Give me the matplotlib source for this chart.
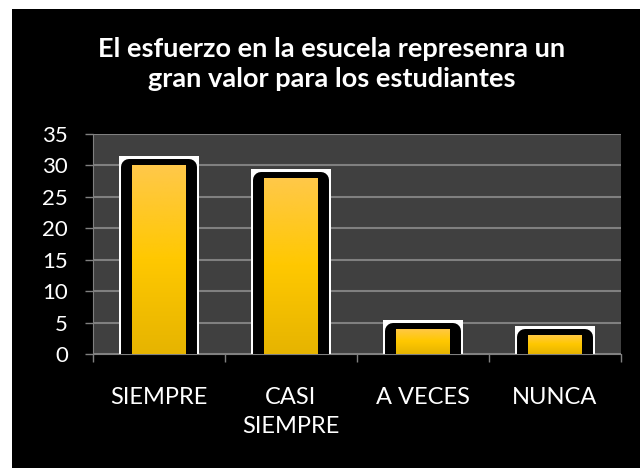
import numpy as np
import matplotlib
matplotlib.use("Agg")
import matplotlib.pyplot as plt
from matplotlib.colors import LinearSegmentedColormap
from matplotlib.patches import Rectangle

categorias = ["SIEMPRE", "CASI\nSIEMPRE", "A VECES", "NUNCA"]
valores = [31, 29, 5, 4]
titulo = "El esfuerzo en la esucela represenra un\ngran valor para los estudiantes"
yticks = [0, 5, 10, 15, 20, 25, 30, 35]

plt.rcParams["font.family"] = ["Lato", "DejaVu Sans"]

fig = plt.figure(figsize=(6.4, 4.68), dpi=100, facecolor="white")
# fondo negro con margen blanco arriba e izquierda
fig.add_artist(Rectangle((12 / 640, 0), 1, 1 - 9 / 468, transform=fig.transFigure,
                         facecolor="black", edgecolor="none", zorder=-5))

ax = fig.add_axes([93 / 640, (468 - 354) / 468, (621 - 93) / 640, (354 - 134) / 468])
ax.set_facecolor("#404040")

x = np.arange(len(valores))
v = np.array(valores, dtype=float)
py = 220 / 35   # pixeles por unidad en y
px = 133        # pixeles por categoria

# caja blanca detras
ax.bar(x, v + 3 / py, width=80 / px, color="white", linewidth=0, zorder=2)
# borde negro redondeado
ax.bar(x, v - 8 / py, width=60 / px, color="black", edgecolor="black",
       linewidth=11.5, joinstyle="round", zorder=3)
# barra dorada con degradado
oro = LinearSegmentedColormap.from_list("oro", ["#E6B400", "#FFC800", "#FFC84A"])
barras = ax.bar(x, v - 6 / py, width=54 / px, color="none", linewidth=0, zorder=4)
grad = np.linspace(0, 1, 256).reshape(-1, 1)
for r in barras:
    im = ax.imshow(grad, extent=[r.get_x(), r.get_x() + r.get_width(), 0, r.get_height()],
                   origin="lower", aspect="auto", cmap=oro, zorder=4)
    im.set_clip_path(r)

ax.set_xlim(-0.5, len(valores) - 0.5)
ax.set_ylim(0, 35)
ax.set_yticks(yticks)
ax.grid(axis="y", color="#808080", linewidth=1.5, zorder=1)
ax.set_axisbelow(True)

ax.set_xticks(x)
ax.set_xticklabels(categorias, linespacing=1.45)
ax.set_xticks(np.arange(-0.5, len(valores)), minor=True)
ax.tick_params(axis="x", which="major", length=0, pad=24, labelsize=17, colors="white")
ax.tick_params(axis="x", which="minor", length=6, width=1, color="#808080")
ax.tick_params(axis="y", length=6, width=1, color="#808080", labelcolor="white",
               labelsize=16, pad=12)

for s in ["top", "right"]:
    ax.spines[s].set_visible(False)
for s in ["left", "bottom"]:
    ax.spines[s].set_color("#808080")

fig.text(332 / 640, 1 - 37 / 468, titulo, ha="center", va="top", color="white",
         fontsize=19.5, fontweight="bold", linespacing=1.32)

fig.savefig("out.png", dpi=100, facecolor=fig.get_facecolor())
